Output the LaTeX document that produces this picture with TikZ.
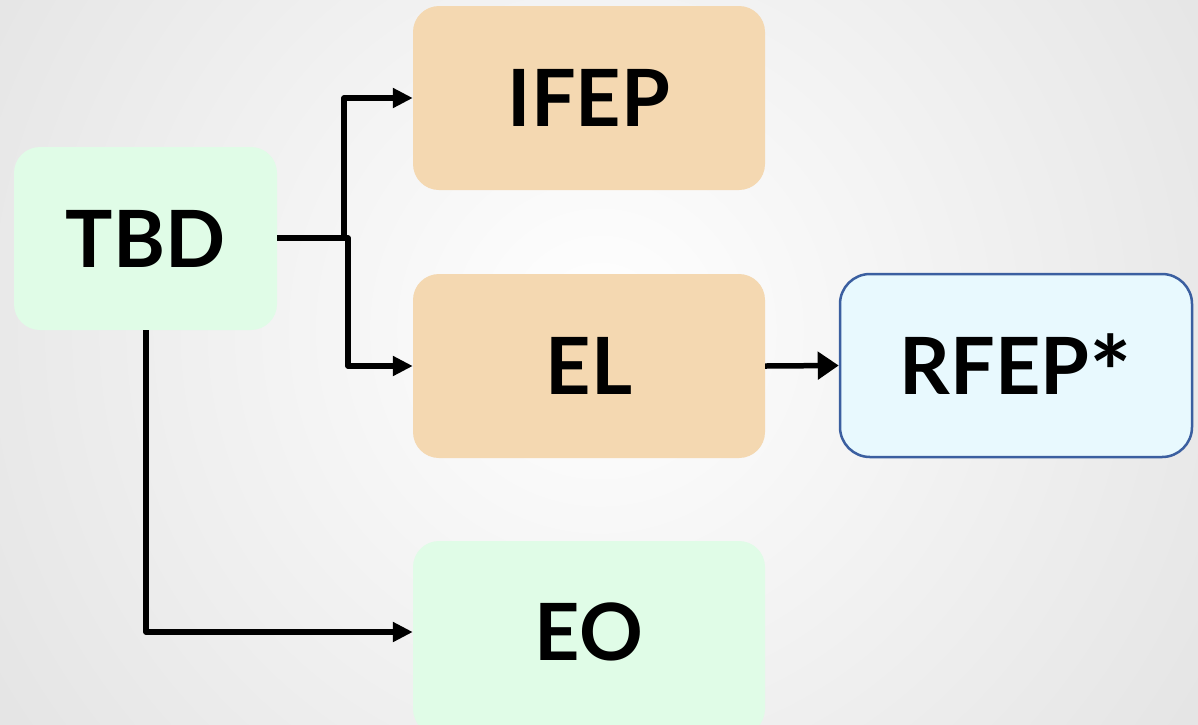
\documentclass[tikz,border=0pt]{standalone}
\usepackage{fontspec}
\setmainfont{Lato}
\usetikzlibrary{arrows.meta}
\definecolor{greenfill}{HTML}{E0FCE7}
\definecolor{tanfill}{HTML}{F4D8B1}
\definecolor{bluefill}{HTML}{E8F9FE}
\definecolor{blueborder}{HTML}{3B5FA0}
\begin{document}
\begin{tikzpicture}[x=1pt,y=-1pt,
  lbl/.style={font=\fontsize{79}{84}\selectfont\bfseries},
  box/.style={rounded corners=26pt, inner sep=0pt, lbl},
  conn/.style={line width=5.5pt, -{Triangle[length=20pt,width=19pt]}, line join=round},
  bigtip/.style={-{Triangle[length=21pt,width=27pt]}}]
\useasboundingbox (0,0) rectangle (1198,724);
\clip (0,0) rectangle (1198,724);
\shade[inner color=white, outer color=black!11] (600,330) circle (760);
\node[box, fill=greenfill, minimum width=263pt, minimum height=183pt] (tbd) at (145.5,238.5) {TBD};
\node[box, fill=tanfill, minimum width=352pt, minimum height=184pt] (ifep) at (589,98) {IFEP};
\node[box, fill=tanfill, minimum width=352pt, minimum height=184pt] (el) at (589,366) {EL};
\node[box, fill=greenfill, minimum width=352pt, minimum height=194pt] (eo) at (589,638) {};
\node[lbl] (eot) at (589,632) {EO};
\node[box, rounded corners=30pt, fill=bluefill, draw=blueborder, line width=2.5pt, minimum width=352pt, minimum height=183pt] (rfep) at (1016,365.5) {\raisebox{-3pt}{RFEP\smash{\raisebox{-15pt}{\fontsize{100}{100}\selectfont *}}}};
\coordinate (j1) at (344,238);
\coordinate (j2) at (348,238);
\coordinate (tbdr) at (277,238);
\draw[conn] (tbdr) -- (j1) |- (ifep.west);
\draw[conn] (tbdr) -- (j2) |- (el.west);
\draw[conn] (tbd.south -| 146,0) |- (eot.center -| eo.west);
\draw[conn, bigtip] (el.east) -- (rfep.west);
\end{tikzpicture}
\end{document}
